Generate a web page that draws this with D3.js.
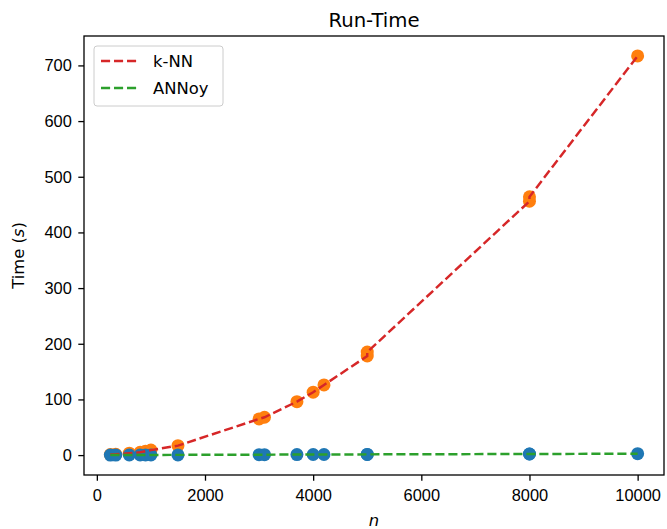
<!DOCTYPE html>
<meta charset="utf-8">
<script src="https://d3js.org/d3.v7.min.js"></script>
<style>
  body { margin: 0; background: #fff; }
  svg { font-family: "DejaVu Sans", sans-serif; }
</style>
<body>
<script>
// problem sizes n (same runs for both methods)
var nValues = [250, 350, 600, 800, 900, 1000, 1500, 3000, 3100, 3700, 4000, 4200, 5000, 5000, 8000, 8000, 10000];
// run-time in seconds
var knnTimes   = [1, 1.5, 3.5, 5, 7, 9, 17, 65, 68, 96, 113, 126, 178, 185, 456, 464, 717];
var annoyTimes = [0.1, 0.1, 0.2, 0.2, 0.3, 0.3, 0.4, 0.8, 0.8, 1.0, 1.1, 1.1, 1.3, 1.3, 2.0, 2.0, 2.5];
var xTicks = [0, 2000, 4000, 6000, 8000, 10000];
var yTicks = [0, 100, 200, 300, 400, 500, 600, 700];
var seriesNames = ["k-NN", "ANNoy"];

var W = 667, H = 529;
var margin = {top: 36, right: 3, bottom: 54, left: 84};
var width = W - margin.left - margin.right,
    height = H - margin.top - margin.bottom;
var fs = "16.4px";

var knn = nValues.map(function(n, i) { return {n: n, t: knnTimes[i]}; });
var annoy = nValues.map(function(n, i) { return {n: n, t: annoyTimes[i]}; });

// matplotlib style 5% margins
var xe = d3.extent(nValues), xpad = (xe[1] - xe[0]) * 0.05;
var allT = knnTimes.concat(annoyTimes);
var ye = d3.extent(allT), ypad = (ye[1] - ye[0]) * 0.05;

var x = d3.scaleLinear().domain([xe[0] - xpad, xe[1] + xpad]).range([0, width]);
var y = d3.scaleLinear().domain([ye[0] - ypad, ye[1] + ypad]).range([height, 0]);

var svg = d3.select("body").append("svg")
    .attr("width", W)
    .attr("height", H);

var g = svg.append("g")
    .attr("transform", "translate(" + margin.left + "," + margin.top + ")");

// scatter points
g.selectAll(".knnpt").data(knn).enter().append("circle")
    .attr("cx", function(d) { return x(d.n); })
    .attr("cy", function(d) { return y(d.t); })
    .attr("r", 6.5)
    .attr("fill", "#ff7f0e");

g.selectAll(".annpt").data(annoy).enter().append("circle")
    .attr("cx", function(d) { return x(d.n); })
    .attr("cy", function(d) { return y(d.t); })
    .attr("r", 6.5)
    .attr("fill", "#1f77b4");

var line = d3.line()
    .x(function(d) { return x(d.n); })
    .y(function(d) { return y(d.t); });

g.append("path").datum(knn)
    .attr("d", line)
    .attr("fill", "none")
    .attr("stroke", "#d62728")
    .attr("stroke-width", 2.46)
    .attr("stroke-dasharray", "9.1,3.9");

g.append("path").datum(annoy)
    .attr("d", line)
    .attr("fill", "none")
    .attr("stroke", "#2ca02c")
    .attr("stroke-width", 2.46)
    .attr("stroke-dasharray", "9.1,3.9");

// axes
var xAxis = d3.axisBottom(x).tickValues(xTicks).tickSize(5.7).tickPadding(9).tickFormat(d3.format("d"));
var yAxis = d3.axisLeft(y).tickValues(yTicks).tickSize(5.7).tickPadding(6.5).tickFormat(d3.format("d"));

var gx = g.append("g")
    .attr("transform", "translate(0," + height + ")")
    .call(xAxis);
var gy = g.append("g").call(yAxis);

[gx, gy].forEach(function(a) {
  a.select(".domain").remove();
  a.selectAll("text").style("font-size", fs).attr("fill", "#000");
  a.selectAll("line").attr("stroke", "#000").attr("stroke-width", 1.3);
});

// frame
g.append("rect")
    .attr("width", width)
    .attr("height", height)
    .attr("fill", "none")
    .attr("stroke", "#000")
    .attr("stroke-width", 1.3);

// title and labels
svg.append("text")
    .attr("x", margin.left + width / 2)
    .attr("y", 27)
    .attr("text-anchor", "middle")
    .style("font-size", "19.7px")
    .text("Run-Time");

svg.append("text")
    .attr("transform", "translate(24," + (margin.top + height / 2) + ") rotate(-90)")
    .attr("text-anchor", "middle")
    .style("font-size", fs)
    .html('Time (<tspan font-style="italic">s</tspan>)');

svg.append("text")
    .attr("x", margin.left + width / 2)
    .attr("y", 526)
    .attr("text-anchor", "middle")
    .style("font-size", fs)
    .style("font-style", "italic")
    .text("n");

// legend
var lg = g.append("g").attr("transform", "translate(10,10)");
lg.append("rect")
    .attr("width", 129)
    .attr("height", 60)
    .attr("rx", 3)
    .attr("fill", "#fff")
    .attr("fill-opacity", 0.8)
    .attr("stroke", "#ccc");

var colors = ["#d62728", "#2ca02c"];
seriesNames.forEach(function(name, i) {
  var yy = 15 + i * 27;
  lg.append("line")
      .attr("x1", 7).attr("x2", 44)
      .attr("y1", yy).attr("y2", yy)
      .attr("stroke", colors[i])
      .attr("stroke-width", 2.46)
      .attr("stroke-dasharray", "9.1,3.9");
  lg.append("text")
      .attr("x", 59)
      .attr("y", yy + 6)
      .style("font-size", fs)
      .text(name);
});
</script>
</body>
